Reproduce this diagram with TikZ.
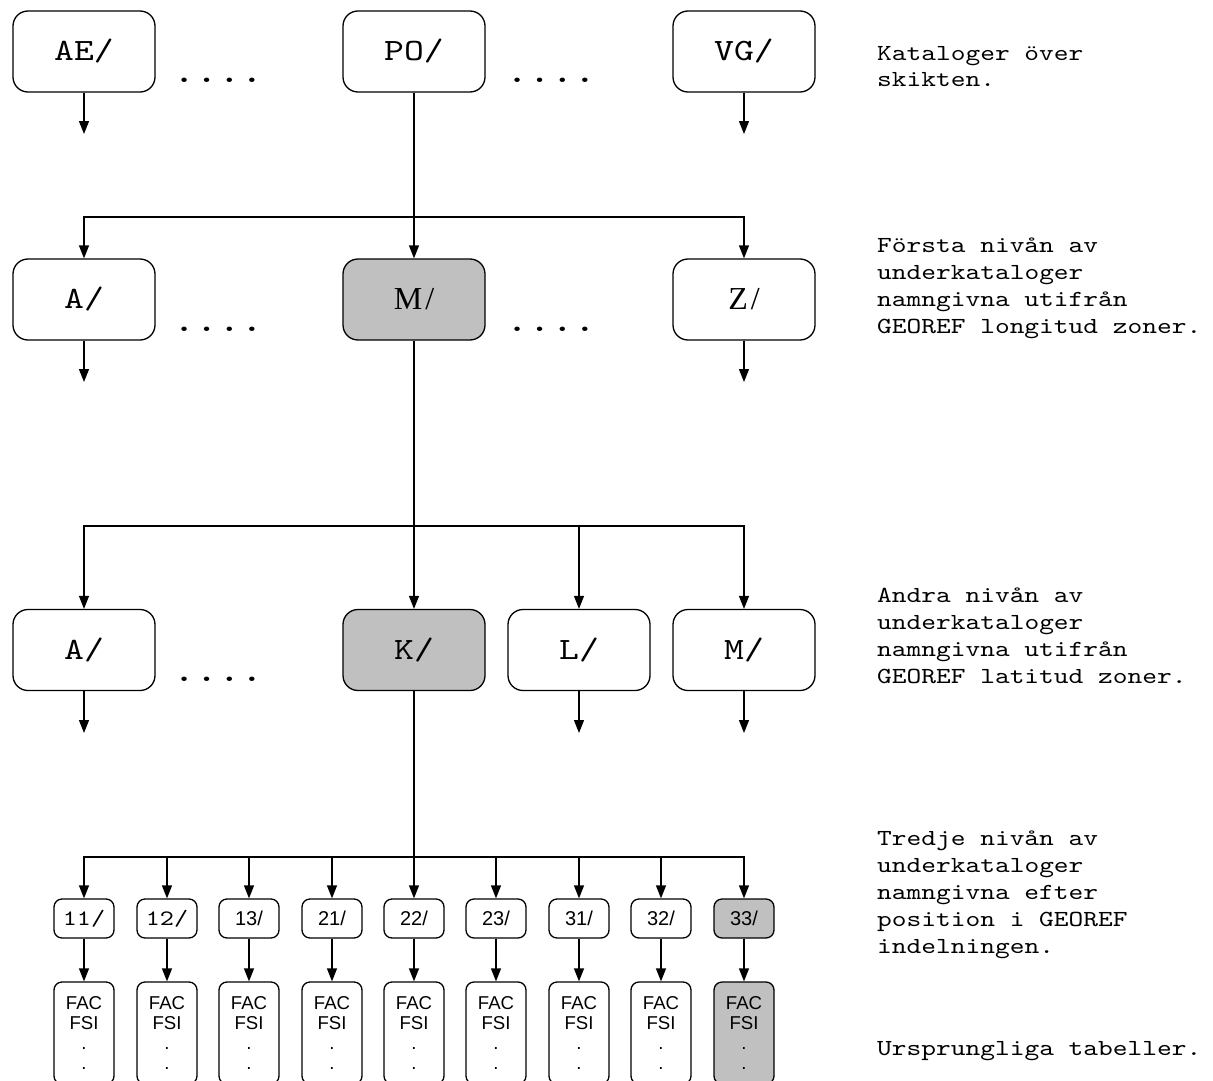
\documentclass[tikz,border=0pt]{standalone}
\usepackage{fontspec}
\usetikzlibrary{arrows.meta}
\newfontfamily\monof{lmmono10-regular.otf}[FakeStretch=1.22]
\newfontfamily\seriff{Liberation Serif}
\newfontfamily\sansf{Liberation Sans}
\definecolor{boxgrey}{HTML}{C0C0C0}
\tikzset{
  bigbox/.style={draw=black, line width=1.3pt, rounded corners=15pt, minimum width=142pt, minimum height=81pt, inner sep=0pt, font=\monof\fontsize{31}{34}\selectfont},
  serifbox/.style={bigbox, font=\seriff\fontsize{32}{36}\selectfont},
  smallbox/.style={draw=black, line width=1.3pt, rounded corners=8pt, minimum width=60pt, minimum height=39pt, inner sep=0pt, font=\sansf\fontsize{20}{22}\selectfont},
  smallmono/.style={smallbox, font=\monof\fontsize{22}{24}\selectfont},
  tablebox/.style={draw=black, line width=1.3pt, rounded corners=8pt, minimum width=60pt, minimum height=102pt, inner sep=0pt, align=center, font=\sansf\fontsize{18.6}{20}\selectfont},
  shaded/.style={fill=boxgrey},
  dotsn/.style={anchor=base, inner sep=0pt, font=\monof\fontsize{35.3}{40}\selectfont},
  note/.style={anchor=base west, inner sep=0pt, align=left, font=\monof\fontsize{23}{27}\selectfont},
  conn/.style={draw=black, line width=1.3pt},
  arr/.style={conn, -{Triangle[width=10pt,length=13pt]}},
}
\begin{document}
\begin{tikzpicture}[x=1pt,y=-1pt]
\useasboundingbox (0,0) rectangle (1213,1081);
\clip (0,0) rectangle (1213,1081);
\fill[white] (0,0) rectangle (1213,1081);

% Row 1
\node[bigbox] (AE) at (84,51.5) {AE/};
\node[bigbox] (PO) at (414,51.5) {PO/};
\node[bigbox] (VG) at (744,51.5) {VG/};
\node[dotsn] (d1) at (218,83) {....};
\node[dotsn] (d2) at (551,83) {....};
\coordinate (AEe) at (84,134);
\coordinate (VGe) at (744,134);
\draw[arr] (AE.south) -- (AEe);
\draw[arr] (VG.south) -- (VGe);

% Row 2
\node[bigbox] (A2) at (84,299.5) {A/};
\node[serifbox,shaded] (M2) at (414,299.5) {M\kern3pt/};
\node[serifbox] (Z2) at (744,299.5) {Z\kern3pt/};
\node[dotsn] (d3) at (218,331) {....};
\node[dotsn] (d4) at (551,331) {....};
\coordinate (bus1) at (414,217);
\draw[arr] (PO.south) -- (M2.north);
\draw[arr] (bus1) -| (A2.north);
\draw[arr] (bus1) -| (Z2.north);
\coordinate (A2e) at (84,382);
\coordinate (Z2e) at (744,382);
\draw[arr] (A2.south) -- (A2e);
\draw[arr] (Z2.south) -- (Z2e);

% Row 3
\node[bigbox] (A3) at (84,650) {A/};
\node[bigbox,shaded] (K3) at (414,650) {K/};
\node[bigbox] (L3) at (579,650) {L/};
\node[bigbox] (M3) at (744,650) {M/};
\node[dotsn] (d5) at (218,681) {....};
\coordinate (bus2) at (414,526);
\draw[arr] (M2.south) -- (K3.north);
\draw[arr] (bus2) -| (A3.north);
\draw[arr] (bus2) -| (L3.north);
\draw[arr] (bus2) -| (M3.north);
\coordinate (A3e) at (84,733);
\coordinate (L3e) at (579,733);
\coordinate (M3e) at (744,733);
\draw[arr] (A3.south) -- (A3e);
\draw[arr] (L3.south) -- (L3e);
\draw[arr] (M3.south) -- (M3e);

% Row 4: third-level directories
\node[smallmono] (s1) at (84,918.5) {11/};
\node[smallmono] (s2) at (167,918.5) {12/};
\node[smallbox] (s3) at (249,918.5) {13/};
\node[smallbox] (s4) at (332,918.5) {21/};
\node[smallbox] (s5) at (414,918.5) {22/};
\node[smallbox] (s6) at (496,918.5) {23/};
\node[smallbox] (s7) at (579,918.5) {31/};
\node[smallbox] (s8) at (661,918.5) {32/};
\node[smallbox,shaded] (s9) at (744,918.5) {33/};
\coordinate (bus3) at (414,857);
\draw[arr] (K3.south) -- (s5.north);
\foreach \i in {1,2,3,4,6,7,8,9} {
  \draw[arr] (bus3) -| (s\i.north);
}

% Row 5: tables
\foreach \i/\x in {1/84,2/167,3/249,4/332,5/414,6/496,7/579,8/661} {
  \node[tablebox] (t\i) at (\x,1033) {FAC\\FSI\\.\\.};
}
\node[tablebox,shaded] (t9) at (744,1033) {FAC\\FSI\\.\\.};
\foreach \i in {1,...,9} {
  \draw[arr] (s\i.south) -- (t\i.north);
}

% Notes
\node[note] (n1) at (877,87) {Kataloger över\\skikten.};
\node[note] (n2) at (877,333) {Första nivån av\\underkataloger\\namngivna utifrån\\GEOREF longitud zoner.};
\node[note] (n3) at (877,683) {Andra nivån av\\underkataloger\\namngivna utifrån\\GEOREF latitud zoner.};
\node[note] (n4) at (877,953) {Tredje nivån av\\underkataloger\\namngivna efter\\position i GEOREF\\indelningen.};
\node[note] (n5) at (877,1055) {Ursprungliga tabeller.};
\end{tikzpicture}
\end{document}
